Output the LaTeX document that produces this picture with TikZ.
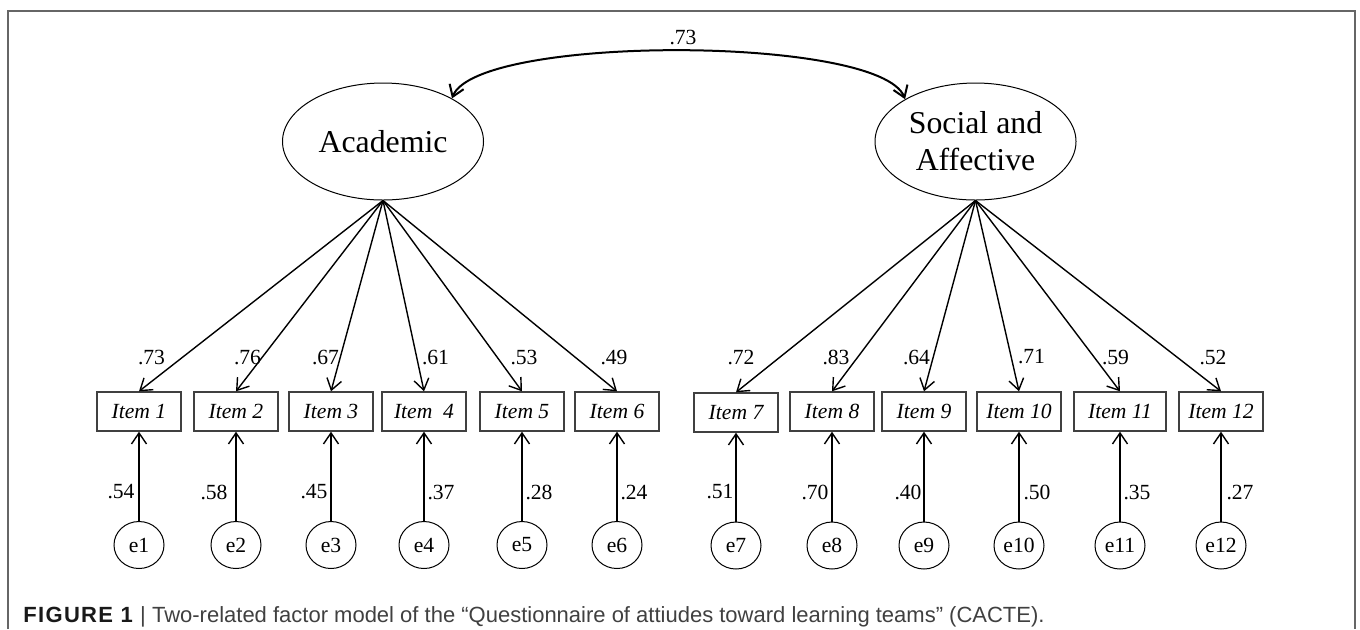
\documentclass[tikz,border=0pt]{standalone}
\usepackage{fontspec}
\setmainfont{Liberation Serif}
\newfontfamily\capfont{Liberation Sans}
\usetikzlibrary{shapes.geometric,arrows.meta}
\begin{document}
\begin{tikzpicture}[x=0.5pt,y=-0.5pt,
  lat/.style={draw, line width=0.5pt, ellipse, minimum width=100.5pt, minimum height=58.5pt, inner sep=0pt, align=center, font=\fontsize{15.9}{18.5}\selectfont},
  itembox/.style={draw=black!75, line width=0.7pt, rectangle, minimum width=42pt, minimum height=19.5pt, inner sep=0pt, font=\fontsize{10.8}{12}\selectfont\itshape},
  err/.style={draw, line width=0.5pt, ellipse, minimum width=25pt, minimum height=23.5pt, inner sep=0pt, font=\fontsize{10.8}{12}\selectfont},
  lbl/.style={inner sep=0pt, font=\fontsize{10.8}{12}\selectfont},
  arr/.style={-{Straight Barb[length=5.5pt,width=7.5pt]}, line width=0.7pt},
  corr/.style={{Straight Barb[length=5.5pt,width=7.5pt]}-{Straight Barb[length=5.5pt,width=7.5pt]}, line width=1pt},
]
\useasboundingbox (0,0) rectangle (1360,629);
% frame
\coordinate (fbl) at (8,629);
\coordinate (ftl) at (8,11);
\coordinate (ftr) at (1355,11);
\coordinate (fbr) at (1355,629);
\draw[black!60, line width=1pt] (fbl) -- (ftl) -- (ftr) -- (fbr);

% latent factors
\node[lat] (A) at (383,141.5) {Academic};
\node[lat] (S) at (975.5,141.5) {Social and\\Affective};

% correlation
\draw[corr] (A.32) .. controls +(25,-64) and +(-25,-64) .. (S.149);
\node[lbl] (r) at (683,37) {.73};

% items
\node[itembox] (i1) at (139,411.5) {Item 1};
\node[itembox] (i2) at (236,411.5) {Item 2};
\node[itembox] (i3) at (331,411.5) {Item 3};
\node[itembox] (i4) at (424,411.5) {Item\ \ 4};
\node[itembox] (i5) at (522,411.5) {Item 5};
\node[itembox] (i6) at (617,411.5) {Item 6};
\node[itembox] (i7) at (736,412.5) {Item 7};
\node[itembox] (i8) at (832,411.5) {Item 8};
\node[itembox] (i9) at (924,411.5) {Item 9};
\node[itembox] (i10) at (1019,411.5) {Item 10};
\node[itembox, minimum width=46pt] (i11) at (1120,411.5) {Item 11};
\node[itembox] (i12) at (1221,411.5) {Item 12};

% errors
\node[err] (e1) at (139,545) {e1};
\node[err] (e2) at (236,545) {e2};
\node[err] (e3) at (331,545) {e3};
\node[err] (e4) at (424,545) {e4};
\node[err] (e5) at (522,545) {e5};
\node[err] (e6) at (617,545) {e6};
\node[err] (e7) at (736,545.5) {e7};
\node[err] (e8) at (832,545.5) {e8};
\node[err] (e9) at (924,545.5) {e9};
\node[err] (e10) at (1019,545.5) {e10};
\node[err] (e11) at (1120,545.5) {e11};
\node[err] (e12) at (1221,545.5) {e12};

% loadings
\foreach \i in {1,...,6} { \draw[arr] (A.south) -- (i\i.north); }
\foreach \i in {7,...,12} { \draw[arr] (S.south) -- (i\i.north); }
\foreach \i in {1,...,12} { \draw[arr] (e\i.north) -- (i\i.south); }

% loading labels
\node[lbl] (l1) at (151.5,357) {.73};
\node[lbl] (l2) at (247.5,357) {.76};
\node[lbl] (l3) at (325.5,357) {.67};
\node[lbl] (l4) at (435.5,357) {.61};
\node[lbl] (l5) at (524,357) {.53};
\node[lbl] (l6) at (614,357) {.49};
\node[lbl] (l7) at (741,357) {.72};
\node[lbl] (l8) at (836,357) {.83};
\node[lbl] (l9) at (916.5,357) {.64};
\node[lbl] (l10) at (1031.5,357) {.71};
\node[lbl] (l11) at (1115.5,357) {.59};
\node[lbl] (l12) at (1213,357) {.52};

% error labels
\node[lbl] (m1) at (121,492) {.54};
\node[lbl] (m2) at (214,492) {.58};
\node[lbl] (m3) at (314,492) {.45};
\node[lbl] (m4) at (441,492) {.37};
\node[lbl] (m5) at (539,492) {.28};
\node[lbl] (m6) at (634,492) {.24};
\node[lbl] (m7) at (720,492) {.51};
\node[lbl] (m8) at (815,492) {.70};
\node[lbl] (m9) at (908,492) {.40};
\node[lbl] (m10) at (1037,492) {.50};
\node[lbl] (m11) at (1137,492) {.35};
\node[lbl] (m12) at (1240,492) {.27};

% caption
\node[anchor=base west, inner sep=0pt, font=\capfont\fontsize{11}{13}\selectfont, text=black!75] (cap) at (23,622)
  {\textcolor{black!90}{\textbf{\addfontfeatures{LetterSpace=6}FIGURE 1}} | Two-related factor model of the “Questionnaire of attiudes toward learning teams” (CACTE).};
\end{tikzpicture}
\end{document}
